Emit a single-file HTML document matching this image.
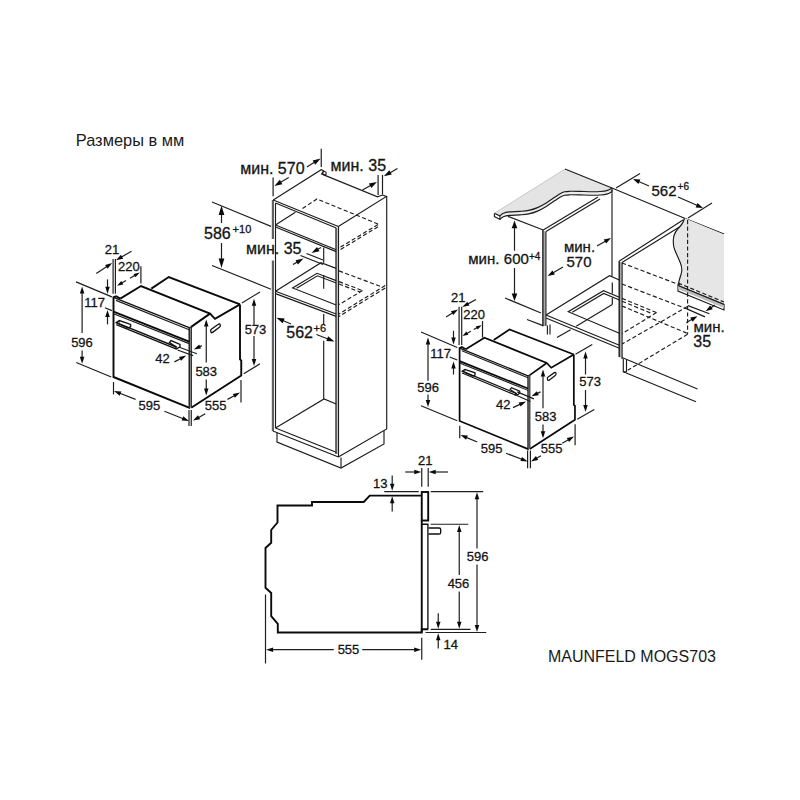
<!DOCTYPE html>
<html><head><meta charset="utf-8"><title>Размеры</title>
<style>
html,body{margin:0;padding:0;background:#fff}
svg{display:block}
text{font-family:"Liberation Sans",sans-serif;fill:#141414;stroke:#141414;stroke-width:0.3}
.k{stroke:#0a0a0a;stroke-width:1.9;fill:none;stroke-linejoin:miter;stroke-linecap:butt}
.k2{stroke:#606060;stroke-width:2.2;fill:none}
.m{stroke:#1c1c1c;stroke-width:1.15;fill:none}
.m2{stroke:#111;stroke-width:1.35;fill:none}
.t{stroke:#1e1e1e;stroke-width:1.2;fill:none}
.g{stroke:#999;stroke-width:1;fill:none}
.g2{stroke:#aaa;stroke-width:2;fill:none}
.n{stroke:none}
.gl{stroke:#bdbdbd;stroke-width:0.8;fill:none}
.nl{stroke:none;fill:#1a1a1a}
.d{stroke:#1c1c1c;stroke-width:1.15;fill:none;stroke-dasharray:4.2 2.4}
.ah{fill:#0a0a0a;stroke:none}
</style></head>
<body>
<svg width="800" height="800" viewBox="0 0 800 800">
<rect width="800" height="800" fill="#fff"/>
<g id="oven1">
<polyline class="k" points="151.30,288.60 168.75,277.00 240.00,304.40" />
<polyline class="k" points="240.00,304.40 240.00,359.40 241.25,360.40 241.25,375.60 191.20,407.75" />
<polyline class="k" points="120.30,298.60 141.00,286.00 210.00,313.60 215.00,318.90 240.00,304.40" />
<polyline class="k" points="210.00,313.60 191.20,326.90" />
<polygon class="n" points="113.50,297.40 189.20,327.70 189.20,407.75 113.50,377.00" fill="#fff"/>
<polyline class="k" points="113.50,296.60 113.50,377.00 190.20,408.10" />
<polyline class="k" points="113.50,297.40 116.10,296.20 120.30,298.60" />
<line class="m2" x1="113.50" y1="297.40" x2="189.20" y2="327.70"/>
<line class="m" x1="116.00" y1="300.40" x2="189.20" y2="329.80"/>
<line class="g2" x1="190.20" y1="327.40" x2="190.20" y2="407.80"/>
<line class="m2" x1="189.20" y1="327.70" x2="189.20" y2="407.75"/>
<line class="m" x1="191.30" y1="326.90" x2="191.30" y2="407.40"/>
<line class="m" x1="189.20" y1="327.70" x2="191.30" y2="326.90"/>
<line class="k" x1="113.50" y1="311.60" x2="189.20" y2="341.60"/>
<line class="m" x1="113.50" y1="313.70" x2="189.20" y2="343.60"/>
<polyline class="m2" points="116.30,322.60 176.30,347.00" />
<polyline class="m2" points="116.30,324.60 175.30,348.70" />
<polygon class="m2" points="116.30,322.60 119.30,320.60 130.60,324.40 130.60,326.80 128.00,328.00" fill="#fff"/>
<polyline class="t" points="119.30,320.60 119.30,322.40" />
<polygon class="m2" points="169.40,342.60 171.00,340.60 180.00,344.40 180.00,346.90 176.30,349.00 175.30,348.70 176.30,347.00" fill="#fff"/>
<path class="m2" d="M211.6,329.0 L218.4,324.2 Q219.9,323.3 220.2,324.9 L220.3,325.6 Q220.4,326.6 219.4,327.3 L212.6,332.4 Q211.2,333.3 210.9,331.8 L210.7,330.8 Q210.6,329.7 211.6,329.0 Z" fill="#fff"/>
</g>
<g id="oven2" transform="translate(459.6,348.1) scale(0.903,0.915) translate(-113.5,-297.4)">
<polyline class="k" points="151.30,288.60 168.75,277.00 240.00,304.40" />
<polyline class="k" points="240.00,304.40 240.00,359.40 241.25,360.40 241.25,375.60 191.20,407.75" />
<polyline class="k" points="120.30,298.60 141.00,286.00 210.00,313.60 215.00,318.90 240.00,304.40" />
<polyline class="k" points="210.00,313.60 191.20,326.90" />
<polygon class="n" points="113.50,297.40 189.20,327.70 189.20,407.75 113.50,377.00" fill="#fff"/>
<polyline class="k" points="113.50,296.60 113.50,377.00 190.20,408.10" />
<polyline class="k" points="113.50,297.40 116.10,296.20 120.30,298.60" />
<line class="m2" x1="113.50" y1="297.40" x2="189.20" y2="327.70"/>
<line class="m" x1="116.00" y1="300.40" x2="189.20" y2="329.80"/>
<line class="g2" x1="190.20" y1="327.40" x2="190.20" y2="407.80"/>
<line class="m2" x1="189.20" y1="327.70" x2="189.20" y2="407.75"/>
<line class="m" x1="191.30" y1="326.90" x2="191.30" y2="407.40"/>
<line class="m" x1="189.20" y1="327.70" x2="191.30" y2="326.90"/>
<line class="k" x1="113.50" y1="311.60" x2="189.20" y2="341.60"/>
<line class="m" x1="113.50" y1="313.70" x2="189.20" y2="343.60"/>
<polyline class="m2" points="116.30,322.60 176.30,347.00" />
<polyline class="m2" points="116.30,324.60 175.30,348.70" />
<polygon class="m2" points="116.30,322.60 119.30,320.60 130.60,324.40 130.60,326.80 128.00,328.00" fill="#fff"/>
<polyline class="t" points="119.30,320.60 119.30,322.40" />
<polygon class="m2" points="169.40,342.60 171.00,340.60 180.00,344.40 180.00,346.90 176.30,349.00 175.30,348.70 176.30,347.00" fill="#fff"/>
<path class="m2" d="M211.6,329.0 L218.4,324.2 Q219.9,323.3 220.2,324.9 L220.3,325.6 Q220.4,326.6 219.4,327.3 L212.6,332.4 Q211.2,333.3 210.9,331.8 L210.7,330.8 Q210.6,329.7 211.6,329.0 Z" fill="#fff"/>
</g>
<text x="111.90" y="253.70" font-size="13" text-anchor="middle" >21</text>
<line class="t" x1="113.10" y1="259.00" x2="113.10" y2="293.80"/>
<line class="t" x1="115.40" y1="259.00" x2="115.40" y2="293.80"/>
<line class="t" x1="96.25" y1="273.50" x2="107.61" y2="266.02"/>
<polygon class="ah" points="112.20,263.00 107.59,268.73 105.12,264.97"/>
<line class="t" x1="131.50" y1="251.25" x2="120.76" y2="257.45"/>
<polygon class="ah" points="116.00,260.20 120.94,254.75 123.19,258.65"/>
<text x="128.80" y="270.60" font-size="13" text-anchor="middle" >220</text>
<line class="t" x1="140.90" y1="266.20" x2="140.90" y2="283.50"/>
<line class="t" x1="126.00" y1="280.60" x2="120.99" y2="283.50"/>
<polygon class="ah" points="117.10,285.75 121.29,281.01 123.29,284.48"/>
<line class="t" x1="130.00" y1="278.25" x2="135.86" y2="274.86"/>
<polygon class="ah" points="139.75,272.60 135.56,277.34 133.56,273.88"/>
<text x="94.70" y="307.00" font-size="13" text-anchor="middle" >117</text>
<line class="t" x1="107.50" y1="279.40" x2="107.50" y2="288.25"/>
<polygon class="ah" points="107.50,293.75 105.25,286.75 109.75,286.75"/>
<line class="t" x1="107.50" y1="324.40" x2="107.50" y2="315.50"/>
<polygon class="ah" points="107.50,310.00 109.75,317.00 105.25,317.00"/>
<line class="t" x1="76.00" y1="281.90" x2="111.90" y2="296.90"/>
<line class="t" x1="105.00" y1="307.75" x2="111.90" y2="310.60"/>
<text x="82.00" y="346.70" font-size="13" text-anchor="middle" >596</text>
<line class="t" x1="82.10" y1="333.00" x2="82.10" y2="292.00"/>
<polygon class="ah" points="82.10,286.50 84.35,293.50 79.85,293.50"/>
<line class="t" x1="82.10" y1="350.60" x2="82.10" y2="358.25"/>
<polygon class="ah" points="82.10,363.75 79.85,356.75 84.35,356.75"/>
<line class="t" x1="76.25" y1="362.50" x2="111.25" y2="377.00"/>
<text x="149.40" y="410.30" font-size="13" text-anchor="middle" >595</text>
<line class="t" x1="113.50" y1="382.00" x2="113.50" y2="394.40"/>
<line class="t" x1="189.00" y1="410.00" x2="189.00" y2="426.00"/>
<line class="t" x1="191.25" y1="410.00" x2="191.25" y2="426.00"/>
<line class="t" x1="135.60" y1="399.40" x2="119.13" y2="392.99"/>
<polygon class="ah" points="114.00,391.00 121.34,391.44 119.71,395.63"/>
<line class="t" x1="164.40" y1="411.25" x2="183.89" y2="418.97"/>
<polygon class="ah" points="189.00,421.00 181.66,420.51 183.32,416.33"/>
<text x="215.60" y="410.30" font-size="13" text-anchor="middle" >555</text>
<line class="t" x1="241.00" y1="380.00" x2="241.00" y2="402.50"/>
<line class="t" x1="205.25" y1="413.75" x2="197.80" y2="417.92"/>
<polygon class="ah" points="193.00,420.60 198.01,415.22 200.21,419.15"/>
<line class="t" x1="227.50" y1="399.40" x2="235.18" y2="395.16"/>
<polygon class="ah" points="240.00,392.50 234.96,397.85 232.78,393.91"/>
<text x="206.25" y="376.20" font-size="13" text-anchor="middle" >583</text>
<line class="t" x1="206.25" y1="362.50" x2="206.25" y2="324.90"/>
<polygon class="ah" points="206.25,319.40 208.50,326.40 204.00,326.40"/>
<line class="t" x1="206.25" y1="379.40" x2="206.25" y2="390.10"/>
<polygon class="ah" points="206.25,395.60 204.00,388.60 208.50,388.60"/>
<text x="255.50" y="334.30" font-size="13" text-anchor="middle" >573</text>
<line class="t" x1="254.00" y1="325.00" x2="254.00" y2="304.25"/>
<polygon class="ah" points="254.00,298.75 256.25,305.75 251.75,305.75"/>
<line class="t" x1="254.00" y1="336.00" x2="254.00" y2="360.50"/>
<polygon class="ah" points="254.00,366.00 251.75,359.00 256.25,359.00"/>
<line class="t" x1="241.90" y1="303.00" x2="260.00" y2="291.90"/>
<line class="t" x1="243.75" y1="373.75" x2="260.00" y2="363.75"/>
<text x="162.50" y="362.50" font-size="13" text-anchor="middle" >42</text>
<line class="t" x1="174.40" y1="361.90" x2="181.39" y2="358.18"/>
<polygon class="ah" points="186.25,355.60 181.13,360.87 179.01,356.90"/>
<line class="t" x1="201.90" y1="345.60" x2="198.73" y2="347.08"/>
<polygon class="ah" points="193.75,349.40 199.14,344.40 201.05,348.48"/>
<line class="t" x1="180.00" y1="347.50" x2="196.90" y2="353.75"/>
<line class="t" x1="177.50" y1="350.00" x2="193.10" y2="355.60"/>
<polyline class="m" points="273.20,200.00 321.25,169.75 323.60,170.80 321.60,173.90 325.60,175.60 377.50,196.90 382.50,195.00 386.50,196.50 338.30,226.50" />
<circle class="t" cx="324.5" cy="173.2" r="1.7" fill="#fff"/>
<polyline class="m" points="386.70,196.50 386.70,429.00 338.30,457.00" />
<polyline class="m" points="277.00,433.00 277.00,442.00 341.00,468.00 384.00,444.00 384.00,430.60" />
<line class="m" x1="341.00" y1="457.50" x2="341.00" y2="468.00"/>
<line class="k2" x1="272.90" y1="200.00" x2="272.90" y2="239.00"/>
<line class="k2" x1="272.90" y1="260.50" x2="272.90" y2="431.00"/>
<line class="m" x1="275.50" y1="203.00" x2="275.50" y2="428.00"/>
<line class="m" x1="273.20" y1="200.00" x2="338.30" y2="226.50"/>
<line class="m" x1="275.50" y1="203.00" x2="336.30" y2="228.00"/>
<line class="k2" x1="336.20" y1="228.00" x2="336.20" y2="454.00"/>
<line class="m" x1="338.50" y1="226.50" x2="338.50" y2="457.00"/>
<line class="m" x1="272.90" y1="431.00" x2="338.50" y2="457.00"/>
<line class="m" x1="275.50" y1="428.00" x2="336.20" y2="452.30"/>
<polyline class="m" points="275.50,428.00 324.00,399.00 336.20,404.00" />
<line class="m" x1="275.50" y1="225.00" x2="336.20" y2="249.80"/>
<line class="m" x1="275.50" y1="227.00" x2="336.20" y2="251.60"/>
<line class="m" x1="275.50" y1="225.00" x2="295.40" y2="212.30"/>
<line class="m" x1="323.70" y1="247.50" x2="323.70" y2="262.70"/>
<line class="m" x1="323.70" y1="274.90" x2="323.70" y2="288.70"/>
<line class="m" x1="323.70" y1="314.00" x2="323.70" y2="324.50"/>
<line class="m" x1="323.70" y1="340.70" x2="323.70" y2="399.00"/>
<line class="m" x1="275.50" y1="291.20" x2="336.20" y2="314.00"/>
<line class="m" x1="275.50" y1="293.60" x2="336.20" y2="316.40"/>
<polyline class="m" points="275.50,291.20 321.00,262.75 336.20,268.40" />
<polyline class="m" points="336.20,280.60 317.00,273.30 292.60,288.00 336.20,305.00" />
<polyline class="t" points="336.20,283.00 317.40,275.80 296.60,288.20" />
<polyline class="d" points="302.50,208.50 317.00,199.00 378.00,224.00" />
<line class="d" x1="378.00" y1="224.50" x2="339.00" y2="248.00"/>
<line class="d" x1="378.00" y1="226.70" x2="339.00" y2="250.50"/>
<line class="d" x1="339.00" y1="270.90" x2="382.00" y2="287.00"/>
<line class="d" x1="385.20" y1="285.50" x2="339.00" y2="314.00"/>
<line class="d" x1="385.20" y1="288.00" x2="339.00" y2="316.40"/>
<line class="d" x1="339.00" y1="281.60" x2="362.50" y2="290.60"/>
<line class="d" x1="339.00" y1="284.00" x2="360.00" y2="292.00"/>
<line class="d" x1="362.50" y1="290.60" x2="339.00" y2="304.60"/>
<text x="240.20" y="174.40" font-size="16" text-anchor="start" >мин. 570</text>
<line class="t" x1="273.10" y1="177.50" x2="273.10" y2="196.20"/>
<line class="t" x1="321.25" y1="148.70" x2="321.25" y2="166.90"/>
<line class="t" x1="288.75" y1="177.50" x2="279.82" y2="182.79"/>
<polygon class="ah" points="274.40,186.00 279.84,179.87 282.39,184.18"/>
<line class="t" x1="306.90" y1="166.90" x2="315.23" y2="161.79"/>
<polygon class="ah" points="320.60,158.50 315.26,164.71 312.64,160.45"/>
<text x="330.60" y="170.60" font-size="16" text-anchor="start" >мин. 35</text>
<line class="t" x1="378.10" y1="175.00" x2="378.10" y2="195.00"/>
<line class="t" x1="382.50" y1="175.00" x2="382.50" y2="194.50"/>
<line class="t" x1="362.50" y1="190.00" x2="371.41" y2="184.99"/>
<polygon class="ah" points="376.90,181.90 371.33,187.90 368.88,183.55"/>
<line class="t" x1="397.50" y1="168.50" x2="389.24" y2="173.16"/>
<polygon class="ah" points="383.75,176.25 389.32,170.24 391.77,174.60"/>
<text x="204.00" y="239.00" font-size="16" text-anchor="start" >586</text>
<text x="232.60" y="233.00" font-size="11" text-anchor="start" >+10</text>
<line class="t" x1="221.50" y1="223.00" x2="221.50" y2="213.50"/>
<polygon class="ah" points="221.50,205.50 224.35,215.00 218.65,215.00"/>
<line class="t" x1="221.50" y1="243.00" x2="221.50" y2="260.00"/>
<polygon class="ah" points="221.50,268.00 218.65,258.50 224.35,258.50"/>
<line class="t" x1="212.00" y1="202.00" x2="271.00" y2="226.40"/>
<line class="t" x1="212.00" y1="265.50" x2="271.00" y2="289.20"/>
<text x="246.00" y="253.60" font-size="16" text-anchor="start" >мин. 35</text>
<line class="t" x1="306.50" y1="253.50" x2="323.00" y2="260.00"/>
<line class="t" x1="300.50" y1="255.50" x2="323.00" y2="264.50"/>
<line class="t" x1="321.00" y1="247.50" x2="316.95" y2="249.84"/>
<polygon class="ah" points="311.50,253.00 317.00,246.93 319.50,251.26"/>
<line class="t" x1="293.00" y1="264.50" x2="298.03" y2="261.63"/>
<polygon class="ah" points="303.50,258.50 297.97,264.54 295.49,260.20"/>
<text x="286.30" y="338.00" font-size="16" text-anchor="start" >562</text>
<text x="313.60" y="332.00" font-size="11" text-anchor="start" >+6</text>
<line class="t" x1="291.00" y1="324.00" x2="282.29" y2="320.28"/>
<polygon class="ah" points="276.50,317.80 284.65,318.57 282.69,323.17"/>
<line class="t" x1="316.50" y1="334.50" x2="328.63" y2="339.22"/>
<polygon class="ah" points="334.50,341.50 326.32,341.00 328.14,336.34"/>
<polyline class="k" points="421.75,495.60 375.00,495.60 369.75,495.60 363.75,502.00 312.00,502.00 312.00,505.50 277.50,505.50 277.50,522.50 271.20,530.00 271.20,542.75 265.50,548.00 265.50,587.75 271.20,593.00 271.20,616.25 277.80,623.75 277.80,632.50 421.75,632.50 421.75,629.30 428.20,629.30" />
<rect class="k" x="421.75" y="492" width="6.45" height="28.5" fill="#fff"/>
<polyline class="k" points="421.75,520.50 421.75,632.50" />
<polyline class="m2" points="421.75,524.25 427.90,524.25 427.90,629.30" />
<path class="m2" d="M428.5,528 H439 Q440.7,528 440.7,529.6 V532.4 Q440.7,534 439,534 H428.5" fill="#fff"/>
<text x="373.00" y="487.50" font-size="13" text-anchor="start" >13</text>
<line class="t" x1="384.25" y1="491.70" x2="418.75" y2="491.70"/>
<line class="t" x1="392.20" y1="475.50" x2="392.20" y2="485.20"/>
<polygon class="ah" points="392.20,490.70 389.95,483.70 394.45,483.70"/>
<line class="t" x1="392.20" y1="511.50" x2="392.20" y2="501.80"/>
<polygon class="ah" points="392.20,496.30 394.45,503.30 389.95,503.30"/>
<text x="425.30" y="464.70" font-size="13" text-anchor="middle" >21</text>
<line class="t" x1="421.75" y1="468.00" x2="421.75" y2="486.75"/>
<line class="t" x1="428.20" y1="468.00" x2="428.20" y2="486.75"/>
<line class="t" x1="405.25" y1="472.00" x2="415.80" y2="472.00"/>
<polygon class="ah" points="421.30,472.00 414.30,474.25 414.30,469.75"/>
<line class="t" x1="448.00" y1="472.00" x2="434.20" y2="472.00"/>
<polygon class="ah" points="428.70,472.00 435.70,469.75 435.70,474.25"/>
<text x="477.60" y="561.00" font-size="13" text-anchor="middle" >596</text>
<line class="t" x1="430.75" y1="491.70" x2="483.25" y2="491.70"/>
<line class="t" x1="425.50" y1="632.50" x2="486.25" y2="632.50"/>
<line class="t" x1="477.00" y1="548.50" x2="477.00" y2="497.80"/>
<polygon class="ah" points="477.00,492.30 479.25,499.30 474.75,499.30"/>
<line class="t" x1="477.00" y1="564.50" x2="477.00" y2="626.40"/>
<polygon class="ah" points="477.00,631.90 474.75,624.90 479.25,624.90"/>
<text x="458.50" y="587.75" font-size="13" text-anchor="middle" >456</text>
<line class="t" x1="430.75" y1="524.25" x2="468.25" y2="524.25"/>
<line class="t" x1="430.75" y1="629.30" x2="470.50" y2="629.30"/>
<line class="t" x1="459.25" y1="575.00" x2="459.25" y2="530.50"/>
<polygon class="ah" points="459.25,525.00 461.50,532.00 457.00,532.00"/>
<line class="t" x1="459.25" y1="591.50" x2="459.25" y2="623.20"/>
<polygon class="ah" points="459.25,628.70 457.00,621.70 461.50,621.70"/>
<text x="443.50" y="648.50" font-size="13" text-anchor="start" >14</text>
<line class="t" x1="438.25" y1="613.25" x2="438.25" y2="623.20"/>
<polygon class="ah" points="438.25,628.70 436.00,621.70 440.50,621.70"/>
<line class="t" x1="438.25" y1="648.50" x2="438.25" y2="638.80"/>
<polygon class="ah" points="438.25,633.30 440.50,640.30 436.00,640.30"/>
<text x="348.50" y="654.20" font-size="13" text-anchor="middle" >555</text>
<line class="t" x1="265.50" y1="594.50" x2="265.50" y2="663.50"/>
<line class="t" x1="421.75" y1="637.70" x2="421.75" y2="659.75"/>
<line class="t" x1="333.75" y1="649.70" x2="271.60" y2="649.70"/>
<polygon class="ah" points="266.10,649.70 273.10,647.45 273.10,651.95"/>
<line class="t" x1="362.25" y1="649.70" x2="415.70" y2="649.70"/>
<polygon class="ah" points="421.20,649.70 414.20,651.95 414.20,647.45"/>
<text x="458.30" y="301.70" font-size="13" text-anchor="middle" >21</text>
<line class="t" x1="459.10" y1="306.75" x2="459.10" y2="345.00"/>
<line class="t" x1="461.70" y1="306.75" x2="461.70" y2="345.00"/>
<line class="t" x1="446.00" y1="317.00" x2="453.34" y2="312.41"/>
<polygon class="ah" points="458.00,309.50 453.26,315.12 450.87,311.30"/>
<line class="t" x1="476.00" y1="299.50" x2="467.08" y2="304.37"/>
<polygon class="ah" points="462.25,307.00 467.32,301.67 469.47,305.62"/>
<text x="474.20" y="318.50" font-size="13" text-anchor="middle" >220</text>
<line class="t" x1="482.50" y1="321.00" x2="482.50" y2="337.50"/>
<line class="t" x1="470.75" y1="331.20" x2="466.04" y2="333.94"/>
<polygon class="ah" points="462.50,336.00 466.38,331.54 468.30,334.83"/>
<line class="t" x1="473.75" y1="329.50" x2="478.09" y2="327.15"/>
<polygon class="ah" points="481.70,325.20 477.68,329.54 475.87,326.19"/>
<text x="440.60" y="358.00" font-size="13" text-anchor="middle" >117</text>
<line class="t" x1="453.50" y1="330.75" x2="453.50" y2="339.00"/>
<polygon class="ah" points="453.50,344.50 451.25,337.50 455.75,337.50"/>
<line class="t" x1="453.50" y1="374.50" x2="453.50" y2="367.00"/>
<polygon class="ah" points="453.50,361.50 455.75,368.50 451.25,368.50"/>
<line class="t" x1="421.00" y1="332.00" x2="457.25" y2="347.50"/>
<line class="t" x1="449.75" y1="357.00" x2="457.25" y2="360.00"/>
<text x="428.10" y="391.70" font-size="13" text-anchor="middle" >596</text>
<line class="t" x1="428.00" y1="380.75" x2="428.00" y2="343.00"/>
<polygon class="ah" points="428.00,337.50 430.25,344.50 425.75,344.50"/>
<line class="t" x1="428.00" y1="394.50" x2="428.00" y2="401.50"/>
<polygon class="ah" points="428.00,407.00 425.75,400.00 430.25,400.00"/>
<line class="t" x1="421.00" y1="405.75" x2="457.25" y2="420.75"/>
<text x="491.60" y="453.25" font-size="13" text-anchor="middle" >595</text>
<line class="t" x1="459.75" y1="425.75" x2="459.75" y2="438.25"/>
<line class="t" x1="527.60" y1="450.50" x2="527.60" y2="468.25"/>
<line class="t" x1="530.40" y1="450.50" x2="530.40" y2="468.25"/>
<line class="t" x1="477.25" y1="442.00" x2="465.57" y2="437.12"/>
<polygon class="ah" points="460.50,435.00 467.83,435.62 466.09,439.78"/>
<line class="t" x1="506.00" y1="453.25" x2="522.61" y2="459.55"/>
<polygon class="ah" points="527.75,461.50 520.41,461.12 522.00,456.91"/>
<text x="551.60" y="452.50" font-size="13" text-anchor="middle" >555</text>
<line class="t" x1="575.10" y1="424.25" x2="575.10" y2="445.25"/>
<line class="t" x1="541.00" y1="455.75" x2="535.77" y2="458.76"/>
<polygon class="ah" points="531.00,461.50 535.95,456.06 538.19,459.96"/>
<line class="t" x1="562.25" y1="443.25" x2="569.23" y2="439.24"/>
<polygon class="ah" points="574.00,436.50 569.05,441.94 566.81,438.04"/>
<text x="545.60" y="420.80" font-size="13" text-anchor="middle" >583</text>
<line class="t" x1="543.00" y1="408.25" x2="543.00" y2="375.00"/>
<polygon class="ah" points="543.00,369.50 545.25,376.50 540.75,376.50"/>
<line class="t" x1="543.00" y1="424.50" x2="543.00" y2="432.75"/>
<polygon class="ah" points="543.00,438.25 540.75,431.25 545.25,431.25"/>
<text x="590.10" y="386.00" font-size="13" text-anchor="middle" >573</text>
<line class="t" x1="585.50" y1="374.50" x2="585.50" y2="357.00"/>
<polygon class="ah" points="585.50,351.50 587.75,358.50 583.25,358.50"/>
<line class="t" x1="585.50" y1="390.00" x2="585.50" y2="406.50"/>
<polygon class="ah" points="585.50,412.00 583.25,405.00 587.75,405.00"/>
<line class="t" x1="575.50" y1="354.30" x2="592.25" y2="344.50"/>
<line class="t" x1="577.25" y1="419.20" x2="594.25" y2="409.40"/>
<text x="503.20" y="408.60" font-size="13" text-anchor="middle" >42</text>
<line class="t" x1="513.00" y1="407.60" x2="521.02" y2="403.84"/>
<polygon class="ah" points="526.00,401.50 520.62,406.51 518.71,402.44"/>
<line class="t" x1="540.50" y1="391.90" x2="536.44" y2="393.88"/>
<polygon class="ah" points="531.50,396.30 536.80,391.20 538.78,395.25"/>
<line class="t" x1="517.25" y1="391.90" x2="533.90" y2="398.90"/>
<line class="t" x1="514.60" y1="394.50" x2="530.40" y2="401.50"/>
<path d="M499.90,215.90 C500.48,215.45 501.80,213.87 503.40,213.20 C505.00,212.53 506.73,212.20 509.50,211.90 C512.27,211.60 516.79,211.65 520.00,211.40 C523.21,211.15 525.83,211.03 528.75,210.40 C531.67,209.77 534.58,208.85 537.50,207.60 C540.42,206.35 543.33,204.65 546.25,202.90 C549.17,201.15 552.71,198.63 555.00,197.10 C557.29,195.57 558.42,194.58 560.00,193.70 C561.58,192.82 562.83,192.20 564.50,191.80 C566.17,191.40 567.42,191.37 570.00,191.30 C572.58,191.23 576.67,191.33 580.00,191.40 C583.33,191.47 586.58,191.68 590.00,191.70 C593.42,191.72 597.58,191.72 600.50,191.50 C603.42,191.28 605.58,190.98 607.50,190.40 C609.42,189.82 611.25,188.40 612.00,188.00  L565,169 L494.4,213.3 Z" fill="#e4e4e4" stroke="none"/>
<path d="M499.90,215.90 C500.48,215.45 501.80,213.87 503.40,213.20 C505.00,212.53 506.73,212.20 509.50,211.90 C512.27,211.60 516.79,211.65 520.00,211.40 C523.21,211.15 525.83,211.03 528.75,210.40 C531.67,209.77 534.58,208.85 537.50,207.60 C540.42,206.35 543.33,204.65 546.25,202.90 C549.17,201.15 552.71,198.63 555.00,197.10 C557.29,195.57 558.42,194.58 560.00,193.70 C561.58,192.82 562.83,192.20 564.50,191.80 C566.17,191.40 567.42,191.37 570.00,191.30 C572.58,191.23 576.67,191.33 580.00,191.40 C583.33,191.47 586.58,191.68 590.00,191.70 C593.42,191.72 597.58,191.72 600.50,191.50 C603.42,191.28 605.58,190.98 607.50,190.40 C609.42,189.82 611.25,188.40 612.00,188.00  L612.00,191.50 C611.25,191.90 609.42,193.32 607.50,193.90 C605.58,194.48 603.42,194.78 600.50,195.00 C597.58,195.22 593.42,195.22 590.00,195.20 C586.58,195.18 583.33,194.97 580.00,194.90 C576.67,194.83 572.58,194.73 570.00,194.80 C567.42,194.87 566.17,194.90 564.50,195.30 C562.83,195.70 561.58,196.32 560.00,197.20 C558.42,198.08 557.29,199.07 555.00,200.60 C552.71,202.13 549.17,204.65 546.25,206.40 C543.33,208.15 540.42,209.85 537.50,211.10 C534.58,212.35 531.67,213.27 528.75,213.90 C525.83,214.53 523.21,214.65 520.00,214.90 C516.79,215.15 512.27,215.10 509.50,215.40 C506.73,215.70 505.00,216.03 503.40,216.70 C501.80,217.37 500.48,218.95 499.90,219.40  Z" fill="#ececec" stroke="none"/>
<path class="m" d="M499.90,215.90 C500.48,215.45 501.80,213.87 503.40,213.20 C505.00,212.53 506.73,212.20 509.50,211.90 C512.27,211.60 516.79,211.65 520.00,211.40 C523.21,211.15 525.83,211.03 528.75,210.40 C531.67,209.77 534.58,208.85 537.50,207.60 C540.42,206.35 543.33,204.65 546.25,202.90 C549.17,201.15 552.71,198.63 555.00,197.10 C557.29,195.57 558.42,194.58 560.00,193.70 C561.58,192.82 562.83,192.20 564.50,191.80 C566.17,191.40 567.42,191.37 570.00,191.30 C572.58,191.23 576.67,191.33 580.00,191.40 C583.33,191.47 586.58,191.68 590.00,191.70 C593.42,191.72 597.58,191.72 600.50,191.50 C603.42,191.28 605.58,190.98 607.50,190.40 C609.42,189.82 611.25,188.40 612.00,188.00 "/>
<path class="m" d="M499.90,219.40 C500.48,218.95 501.80,217.37 503.40,216.70 C505.00,216.03 506.73,215.70 509.50,215.40 C512.27,215.10 516.79,215.15 520.00,214.90 C523.21,214.65 525.83,214.53 528.75,213.90 C531.67,213.27 534.58,212.35 537.50,211.10 C540.42,209.85 543.33,208.15 546.25,206.40 C549.17,204.65 552.71,202.13 555.00,200.60 C557.29,199.07 558.42,198.08 560.00,197.20 C561.58,196.32 562.83,195.70 564.50,195.30 C566.17,194.90 567.42,194.87 570.00,194.80 C572.58,194.73 576.67,194.83 580.00,194.90 C583.33,194.97 586.58,195.18 590.00,195.20 C593.42,195.22 597.58,195.22 600.50,195.00 C603.42,194.78 605.58,194.48 607.50,193.90 C609.42,193.32 611.25,191.90 612.00,191.50 "/>
<polyline class="m" points="494.40,213.30 494.40,216.60 499.90,219.40 499.90,215.90 494.40,213.30" />
<line class="m" x1="565.00" y1="169.00" x2="612.00" y2="188.00"/>
<line class="gl" x1="494.40" y1="213.30" x2="565.00" y2="169.00"/>
<line class="m" x1="612.00" y1="188.00" x2="612.00" y2="191.50"/>
<line class="m" x1="508.00" y1="216.40" x2="543.20" y2="230.00"/>
<line class="g2" x1="544.30" y1="231.00" x2="544.30" y2="326.00"/>
<line class="m2" x1="542.90" y1="230.00" x2="542.90" y2="326.20"/>
<line class="m" x1="545.90" y1="231.50" x2="545.90" y2="326.00"/>
<polyline class="m" points="543.20,230.00 598.00,197.00" />
<polyline class="m" points="546.00,231.50 600.00,199.00" />
<polyline class="m" points="547.40,325.50 547.40,334.50" />
<polyline class="m" points="550.00,324.50 550.00,334.50" />
<line class="m" x1="612.00" y1="190.00" x2="612.00" y2="276.50"/>
<line class="t" x1="612.30" y1="304.50" x2="612.30" y2="298.00"/>
<line class="t" x1="612.30" y1="293.50" x2="612.30" y2="282.50"/>
<polyline class="m" points="612.00,188.00 684.00,218.00 724.00,234.00" />
<line class="m" x1="546.00" y1="315.00" x2="619.40" y2="345.30"/>
<line class="m" x1="546.00" y1="318.00" x2="619.40" y2="348.30"/>
<polyline class="m" points="546.00,315.00 609.50,275.75 619.40,280.00" />
<polyline class="m" points="619.40,297.30 603.50,290.75 568.25,311.75 619.40,333.30" />
<polyline class="t" points="619.40,300.00 603.70,293.50 572.30,312.30" />
<line class="t" x1="556.90" y1="337.50" x2="570.60" y2="329.75"/>
<line class="t" x1="576.25" y1="326.25" x2="612.30" y2="304.50"/>
<line class="g2" x1="620.60" y1="262.00" x2="620.60" y2="357.50"/>
<line class="m2" x1="619.20" y1="261.00" x2="619.20" y2="357.00"/>
<line class="m" x1="622.10" y1="262.50" x2="622.10" y2="359.00"/>
<polyline class="m" points="619.40,261.00 683.00,220.00" />
<polyline class="m" points="622.00,262.50 681.00,226.00" />
<polyline class="m" points="623.30,359.00 623.30,371.75 626.50,371.75 626.50,360.00" />
<line class="m" x1="527.00" y1="319.50" x2="543.00" y2="325.60"/>
<line class="m" x1="622.00" y1="357.50" x2="697.50" y2="389.00"/>
<line class="m" x1="623.30" y1="371.75" x2="696.00" y2="401.75"/>
<path d="M684.4,218 C684,221 683,223.5 680,226.5 C676.5,230 674.2,233 673.6,237.5 C673,242 673,245.5 674.6,249.5 C676.4,254 678.6,258.5 680.4,263 C682,267 682.4,270.5 681,274.5 C679.6,278.5 678.6,281.5 678.4,285.5 L724,304.5 L724,234.4 Z" fill="#e6e6e6" stroke="none"/>
<path class="m" d="M684.4,218 C684,221 683,223.5 680,226.5 C676.5,230 674.2,233 673.6,237.5 C673,242 673,245.5 674.6,249.5 C676.4,254 678.6,258.5 680.4,263 C682,267 682.4,270.5 681,274.5 C679.6,278.5 678.6,281.5 678.4,285.5"/>
<polygon class="m" points="678.00,285.50 724.00,304.50 724.00,310.00 678.00,291.00" fill="#e4e4e4"/>
<polygon class="n" points="678.00,285.50 724.00,304.50 724.00,308.00 678.00,289.00" fill="#bcbcbc"/>
<line class="m" x1="678.00" y1="285.50" x2="724.00" y2="304.50"/>
<line class="d" x1="678.00" y1="283.00" x2="724.00" y2="302.00"/>
<line class="d" x1="687.60" y1="220.00" x2="687.60" y2="334.00"/>
<line class="d" x1="622.00" y1="263.00" x2="680.00" y2="285.00"/>
<line class="d" x1="622.00" y1="284.00" x2="687.00" y2="309.00"/>
<line class="d" x1="687.60" y1="306.50" x2="622.20" y2="344.00"/>
<line class="d" x1="622.00" y1="306.00" x2="687.60" y2="333.50"/>
<line class="d" x1="687.60" y1="334.25" x2="627.75" y2="370.25"/>
<line class="d" x1="622.00" y1="298.40" x2="656.50" y2="312.60"/>
<line class="d" x1="622.00" y1="301.20" x2="651.50" y2="313.40"/>
<line class="d" x1="656.50" y1="312.60" x2="622.20" y2="333.60"/>
<text x="468.20" y="264.40" font-size="15" text-anchor="start" >мин.</text>
<text x="503.80" y="264.40" font-size="15" text-anchor="start" >600</text>
<text x="529.00" y="259.60" font-size="10" text-anchor="start" >+4</text>
<line class="t" x1="514.50" y1="250.60" x2="514.50" y2="226.70"/>
<polygon class="ah" points="514.50,220.60 517.30,228.20 511.70,228.20"/>
<line class="t" x1="514.50" y1="268.00" x2="514.50" y2="294.90"/>
<polygon class="ah" points="514.50,301.00 511.70,293.40 517.30,293.40"/>
<line class="t" x1="505.00" y1="298.00" x2="541.00" y2="313.00"/>
<text x="579.50" y="252.00" font-size="15" text-anchor="middle" >мин.</text>
<text x="579.00" y="267.00" font-size="15" text-anchor="middle" >570</text>
<line class="t" x1="563.00" y1="267.00" x2="552.35" y2="273.22"/>
<polygon class="ah" points="547.60,276.00 552.43,270.40 554.85,274.54"/>
<line class="t" x1="597.00" y1="246.00" x2="606.22" y2="240.73"/>
<polygon class="ah" points="611.00,238.00 606.11,243.56 603.73,239.39"/>
<text x="651.50" y="196.00" font-size="15" text-anchor="start" >562</text>
<text x="677.60" y="190.20" font-size="10" text-anchor="start" >+6</text>
<line class="t" x1="616.00" y1="188.00" x2="640.00" y2="173.60"/>
<line class="t" x1="688.00" y1="218.00" x2="712.00" y2="203.00"/>
<line class="t" x1="649.00" y1="186.00" x2="638.04" y2="181.20"/>
<polygon class="ah" points="633.00,179.00 640.38,179.61 638.45,184.00"/>
<line class="t" x1="678.00" y1="197.00" x2="697.97" y2="205.78"/>
<polygon class="ah" points="703.00,208.00 695.63,207.38 697.56,202.98"/>
<text x="693.50" y="332.00" font-size="15" text-anchor="start" >мин.</text>
<text x="693.30" y="346.80" font-size="16" text-anchor="start" >35</text>
<line class="t" x1="688.00" y1="305.60" x2="709.40" y2="313.75"/>
<line class="t" x1="688.00" y1="309.40" x2="705.00" y2="316.90"/>
<line class="t" x1="715.00" y1="305.00" x2="710.18" y2="308.20"/>
<polygon class="ah" points="705.60,311.25 710.10,305.38 712.76,309.37"/>
<line class="t" x1="686.25" y1="322.50" x2="692.69" y2="318.92"/>
<polygon class="ah" points="697.50,316.25 692.55,321.75 690.22,317.55"/>
<text x="75.80" y="145.75" font-size="16.4" text-anchor="start" class="nl">Размеры в мм</text>
<text x="547.90" y="662.00" font-size="16" text-anchor="start" class="nl">MAUNFELD MOGS703</text>
</svg>
</body></html>
